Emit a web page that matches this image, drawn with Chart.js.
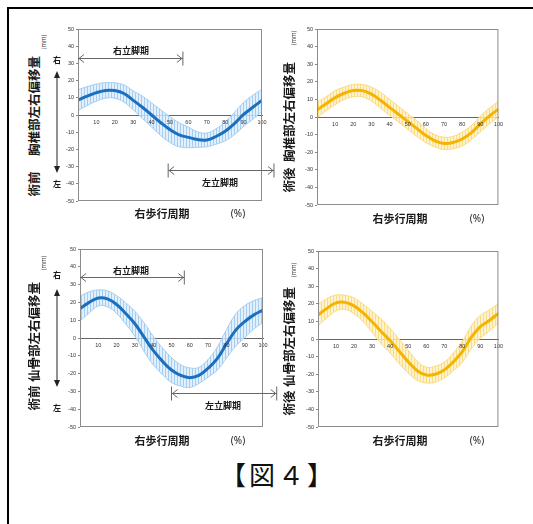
<!DOCTYPE html>
<html>
<head>
<meta charset="utf-8">
<script src="https://cdn.jsdelivr.net/npm/chart.js@4.4.0/dist/chart.umd.min.js"></script>
<style>
body { margin:0; width:533px; height:524px; overflow:hidden; background:#fff; position:relative; font-family:"Noto Sans CJK JP", sans-serif; }
.box { position:absolute; }
.t { position:absolute; white-space:nowrap; transform:translate(-50%,-50%); color:#1a1a1a; line-height:1; }
.v { transform:translate(-50%,-50%) rotate(-90deg); }
.ttl { font-size:12.5px; font-weight:bold; }
.mm { font-size:6px; color:#444; }
.lr { font-size:8px; font-weight:bold; }
.ph { font-size:9px; font-weight:bold; }
.xt { font-size:11px; font-weight:bold; }
.pc { font-size:10px; font-family:"Noto Sans", sans-serif; }
#frame { position:absolute; left:7px; top:7px; width:540px; height:530px; border-left:2px solid #000; border-top:2px solid #000; }
#fig { position:absolute; left:220px; top:461px; font-size:26px; letter-spacing:3px; line-height:1; white-space:nowrap; color:#111; }
</style>
</head>
<body>
<div id="frame"></div>

<div class="box" style="left:60px;top:21px;width:220px;height:188px"><canvas id="c1"></canvas></div>
<div class="box" style="left:297px;top:21px;width:210px;height:192px"><canvas id="c2"></canvas></div>
<div class="box" style="left:60px;top:241px;width:220px;height:194px"><canvas id="c3"></canvas></div>
<div class="box" style="left:297px;top:243px;width:210px;height:192px"><canvas id="c4"></canvas></div>

<!-- top left -->
<div class="t v ttl" style="left:34px;top:106px">胸椎部左右偏移量</div>
<div class="t v ttl" style="left:34px;top:184px">術前</div>
<div class="t v mm" style="left:44px;top:42px">(mm)</div>
<div class="t lr" style="left:57px;top:60px">右</div>
<div class="t lr" style="left:57px;top:184px">左</div>
<svg class="box" style="left:53px;top:71px" width="8" height="102"><line x1="4" y1="4" x2="4" y2="98" stroke="#222"/><path d="M1,7 L4,0 L7,7 Z M1,95 L4,102 L7,95 Z" fill="#222"/></svg>
<div class="t ph" style="left:131px;top:50px">右立脚期</div>
<div class="t ph" style="left:220px;top:182px">左立脚期</div>
<div class="t xt" style="left:162px;top:213px">右歩行周期</div>
<div class="t pc" style="left:238px;top:213px">(%)</div>

<!-- top right -->
<div class="t v ttl" style="left:289px;top:112px">胸椎部左右偏移量</div>
<div class="t v ttl" style="left:289px;top:180px">術後</div>
<div class="t v mm" style="left:294px;top:38px">(mm)</div>
<div class="t xt" style="left:400px;top:218px">右歩行周期</div>
<div class="t pc" style="left:477px;top:218px">(%)</div>

<!-- bottom left -->
<div class="t v ttl" style="left:34px;top:332px">仙骨部左右偏移量</div>
<div class="t v ttl" style="left:34px;top:398px">術前</div>
<div class="t v mm" style="left:44px;top:263px">(mm)</div>
<div class="t lr" style="left:57px;top:275px">右</div>
<div class="t lr" style="left:57px;top:408px">左</div>
<svg class="box" style="left:53px;top:289px" width="8" height="98"><line x1="4" y1="4" x2="4" y2="94" stroke="#222"/><path d="M1,7 L4,0 L7,7 Z M1,91 L4,98 L7,91 Z" fill="#222"/></svg>
<div class="t ph" style="left:131px;top:270px">右立脚期</div>
<div class="t ph" style="left:223px;top:405px">左立脚期</div>
<div class="t xt" style="left:162px;top:440px">右歩行周期</div>
<div class="t pc" style="left:238px;top:440px">(%)</div>

<!-- bottom right -->
<div class="t v ttl" style="left:289px;top:337px">仙骨部左右偏移量</div>
<div class="t v ttl" style="left:289px;top:403px">術後</div>
<div class="t v mm" style="left:294px;top:270px">(mm)</div>
<div class="t xt" style="left:400px;top:440px">右歩行周期</div>
<div class="t pc" style="left:477px;top:440px">(%)</div>

<div id="fig">【図４】</div>

<script>
'use strict';
// gait cycle (%)
let pct = [0, 5, 10, 15, 20, 25, 30, 35, 40, 45, 50, 55, 60, 65, 70, 75, 80, 85, 90, 95, 100];

// thoracic, pre-op / post-op (mm)
let thoPreMean = [8.7, 11, 13, 14.3, 14.2, 12.5, 8.5, 4.5, 0, -4.5, -8.5, -11.5, -13, -14.3, -14.5, -12.5, -9.5, -5, 0.3, 4.5, 8.5];
let thoPreSd = [6, 5.5, 5, 4.5, 4.5, 5, 5.5, 6.5, 7, 7.5, 7.5, 7, 6, 4.5, 4, 4.5, 5.5, 6.5, 7, 7, 6.5];
let thoPostMean = [4, 7.5, 11, 13.5, 15, 15, 13, 9.5, 5.5, 1.5, -2.5, -6.5, -10.5, -13.5, -15, -14.5, -12.5, -9, -4, 0.5, 4.5];
let thoPostSd = [4.5, 4, 4, 3.5, 3.5, 3.5, 4, 4.5, 4.5, 4.5, 4.5, 4.5, 4, 3.5, 3.5, 3.5, 4, 4, 4.5, 4.5, 4.5];

// sacral, pre-op / post-op (mm)
let sacPreMean = [16.5, 20, 22.5, 22, 18.8, 13.8, 8, 0.5, -7, -13, -18, -21, -22.3, -21, -17, -11.6, -3.4, 4.3, 9.2, 13, 15.7];
let sacPreSd = [7, 6, 4.5, 4.5, 5, 6, 7, 8, 8, 7.5, 7, 6, 5.5, 4.5, 5, 6.5, 8, 9, 9, 8, 7];
let sacPostMean = [13.6, 17.5, 20.5, 20.8, 18.8, 14.8, 9.8, 4.3, -1, -7, -12.9, -18, -20.5, -20, -17.6, -13, -7.2, 1, 7, 10.5, 14.6];
let sacPostSd = [6, 5.5, 4.5, 4, 4.5, 5, 6, 7, 7, 7, 6.5, 5.5, 4.5, 4.5, 4.5, 5, 6, 6.5, 6.5, 6, 5.5];

// stance phases [from %, to %, at mm, tick at start, tick at end]
let thoStance = [[0, 57, 33.4, false, true], [49, 106.5, -32, true, true]];
let sacStance = [[0, 57, 34.4, false, true], [50, 107.5, -31, true, true]];

let blue = { line: '#1b6fbf', edge: 'rgba(160,202,238,0.9)', a: 'rgba(150,196,236,0.8)', b: 'rgba(218,236,251,0.8)' };
let yellow = { line: '#f4b400', edge: 'rgba(250,216,120,0.9)', a: 'rgba(250,214,110,0.8)', b: 'rgba(253,240,200,0.8)' };

function hatch(a, b) {
    let c = document.createElement('canvas');
    c.width = 3; c.height = 4;
    let g = c.getContext('2d');
    g.fillStyle = b; g.fillRect(0, 0, 3, 4);
    g.fillStyle = a; g.fillRect(0, 0, 1, 4);
    return g.createPattern(c, 'repeat');
}

function xy(arr) {
    return pct.map((p, i) => ({ x: p, y: arr[i] }));
}

let framePlugin = {
    id: 'frame',
    afterDraw(chart, args, opts) {
        let ctx = chart.ctx;
        let a = chart.chartArea;
        let x = chart.scales.x, y = chart.scales.y;
        ctx.save();
        ctx.strokeStyle = '#8c8c8c';
        ctx.lineWidth = 1;
        ctx.strokeRect(a.left + 0.5, a.top + 0.5, a.width - 1, a.height - 1);
        ctx.strokeStyle = '#666';
        (opts.stance || []).forEach(s => {
            let x0 = x.getPixelForValue(s[0]), x1 = x.getPixelForValue(s[1]);
            let yy = Math.round(y.getPixelForValue(s[2])) + 0.5;
            ctx.beginPath();
            ctx.moveTo(x0, yy); ctx.lineTo(x1, yy);
            ctx.moveTo(x0 + 6, yy - 4); ctx.lineTo(x0 + 1, yy); ctx.lineTo(x0 + 6, yy + 4);
            ctx.moveTo(x1 - 6, yy - 4); ctx.lineTo(x1 - 1, yy); ctx.lineTo(x1 - 6, yy + 4);
            if (s[3]) { ctx.moveTo(x0, yy - 7); ctx.lineTo(x0, yy + 7); }
            if (s[4]) { ctx.moveTo(x1, yy - 7); ctx.lineTo(x1, yy + 7); }
            ctx.stroke();
        });
        ctx.restore();
    }
};

function makeChart(id, mean, sd, col, yw, pad, stance) {
    let upper = mean.map((m, i) => m + sd[i]);
    let lower = mean.map((m, i) => m - sd[i]);
    new Chart(document.getElementById(id), {
        type: 'line',
        data: {
            datasets: [
                { data: xy(mean), borderColor: col.line, borderWidth: 3, tension: 0.4, pointRadius: 0, fill: false },
                { data: xy(upper), borderColor: col.edge, borderWidth: 1, tension: 0.4, pointRadius: 0, fill: false },
                { data: xy(lower), borderColor: col.edge, borderWidth: 1, tension: 0.4, pointRadius: 0, fill: '-1', backgroundColor: hatch(col.a, col.b) }
            ]
        },
        options: {
            responsive: true,
            maintainAspectRatio: false,
            animation: false,
            devicePixelRatio: 1,
            layout: { padding: { left: 0, right: pad, top: 8, bottom: 8 } },
            plugins: { legend: { display: false }, tooltip: { enabled: false }, frame: { stance: stance } },
            scales: {
                x: {
                    type: 'linear', min: 0, max: 100, position: { y: 0 },
                    ticks: { stepSize: 10, autoSkip: false, maxRotation: 0, padding: 4, z: 1, color: '#333', font: { size: 5.5 },
                        callback: v => v === 0 ? '' : v },
                    grid: { drawOnChartArea: false, drawTicks: false },
                    border: { display: true, color: '#666', width: 1 }
                },
                y: {
                    min: -50, max: 50,
                    ticks: { stepSize: 10, padding: 2, color: '#333', font: { size: 5.5 } },
                    grid: { drawOnChartArea: false, tickLength: 2, color: '#888' },
                    border: { display: false },
                    afterFit: s => { s.width = yw; }
                }
            }
        },
        plugins: [framePlugin]
    });
}

makeChart('c1', thoPreMean, thoPreSd, blue, 18, 18, thoStance);
makeChart('c2', thoPostMean, thoPostSd, yellow, 20, 7, null);
makeChart('c3', sacPreMean, sacPreSd, blue, 20, 17, sacStance);
makeChart('c4', sacPostMean, sacPostSd, yellow, 21, 8, null);
</script>
</body>
</html>
